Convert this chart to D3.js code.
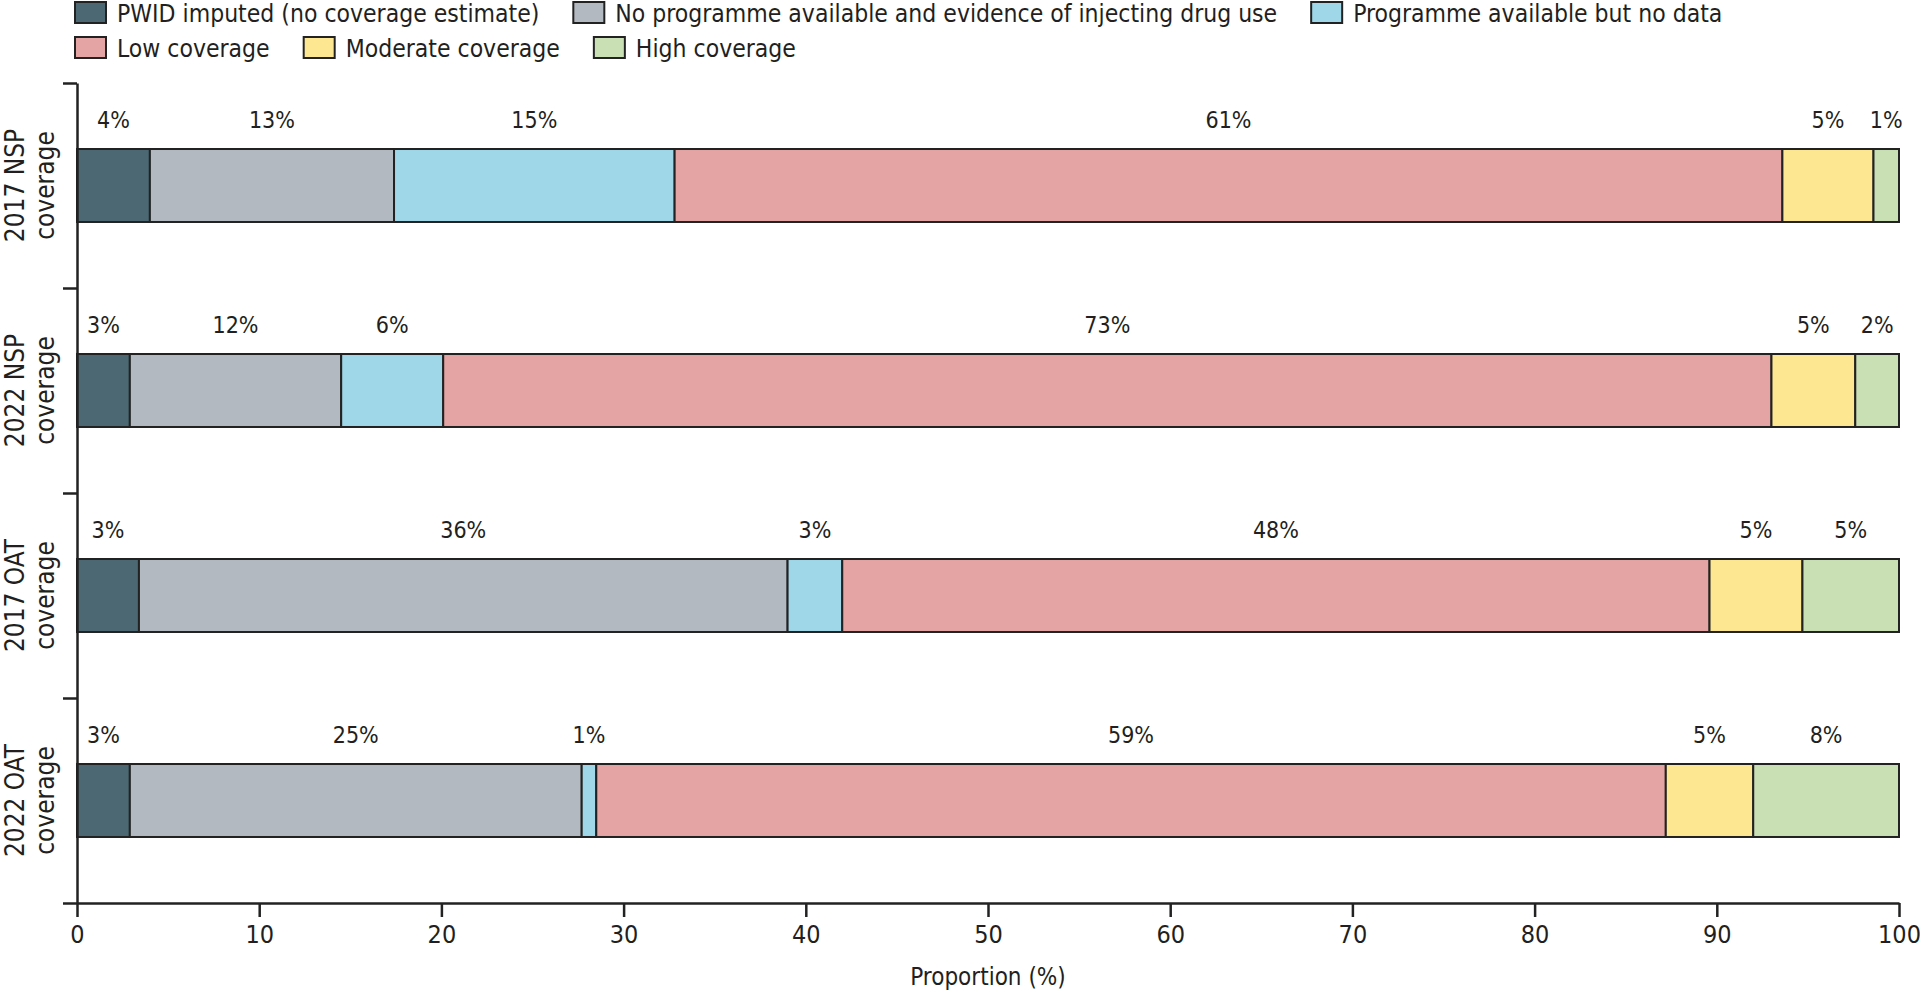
<!DOCTYPE html>
<html>
<head>
<meta charset="utf-8">
<script src="https://cdn.jsdelivr.net/npm/d3@7"></script>
<style>
  body { margin: 0; background: #fff; }
  svg { display: block; }
  text { font-family: "DejaVu Sans Condensed", Lato, "Liberation Sans", sans-serif; fill: #231f20; }
</style>
</head>
<body>
<svg id="canvas" width="1920" height="994"></svg>
<script>
// bar rows, top to bottom
const categories = ["2017 NSP coverage", "2022 NSP coverage", "2017 OAT coverage", "2022 OAT coverage"]

const seriesNames = [
  "PWID imputed (no coverage estimate)",
  "No programme available and evidence of injecting drug use",
  "Programme available but no data",
  "Low coverage",
  "Moderate coverage",
  "High coverage"
]

// proportions (%) per row
const pwidImputed = [4.0, 2.9, 3.4, 2.9]
const noProgramme = [13.4, 11.6, 35.6, 24.8]
const programmeNoData = [15.4, 5.6, 3.0, 0.8]
const lowCoverage = [60.8, 72.9, 47.6, 58.7]
const moderateCoverage = [5.0, 4.6, 5.1, 4.8]
const highCoverage = [1.4, 2.4, 5.3, 8.0]

const xTicks = [0, 10, 20, 30, 40, 50, 60, 70, 80, 90, 100]

const colors = ["#4b6873", "#b3b9c0", "#9fd7e9", "#e3a4a3", "#fde891", "#c9dfb4"]

const seriesValues = [pwidImputed, noProgramme, programmeNoData, lowCoverage, moderateCoverage, highCoverage]

let rows = categories.map((c, i) => {
  let row = { category: c }
  seriesNames.forEach((s, j) => { row[s] = seriesValues[j][i] })
  return row
})

let stacked = d3.stack().keys(seriesNames)(rows)

let canvas = d3.select("#canvas")

const plotLeft = 77
const plotRight = 1899
const plotTop = 83
const plotBottom = 903

let x = d3.scaleLinear().domain([0, 100]).range([plotLeft, plotRight])

let y = d3.scaleBand()
          .domain(categories)
          .range([plotTop, plotBottom])
          .paddingInner(0.644)
          .paddingOuter(0.322)

// band edges for the y axis ticks
let yEdges = d3.scaleLinear().domain([0, categories.length]).range([plotTop, plotBottom])

// ----- legend -----
const legendRows = [[0, 1, 2], [3, 4, 5]]
legendRows.forEach((items, r) => {
  let lx = 75
  let baseY = 22 + r * 35
  items.forEach((k) => {
    let g = canvas.append("g").attr("class", "legend-item")
    g.append("rect")
     .attr("x", lx)
     .attr("y", baseY - 20)
     .attr("width", 31)
     .attr("height", 21)
     .attr("fill", colors[k])
     .attr("stroke", "#222")
     .attr("stroke-width", 2)
    let t = g.append("text")
             .attr("x", lx + 42)
             .attr("y", baseY)
             .attr("font-size", 24.5)
             .text(seriesNames[k])
    lx = lx + 42 + t.node().getComputedTextLength() + 34
  })
})

// ----- bars -----
let layer = canvas.selectAll("g.layer")
                  .data(stacked)
                  .enter()
                  .append("g")
                  .attr("class", "layer")
                  .attr("fill", (d, i) => colors[i])

layer.selectAll("rect")
     .data((d) => d)
     .enter()
     .append("rect")
     .attr("x", (d) => x(d[0]))
     .attr("y", (d) => y(d.data.category))
     .attr("width", (d) => x(d[1]) - x(d[0]))
     .attr("height", y.bandwidth())
     .attr("stroke", "#222")
     .attr("stroke-width", 2)

layer.selectAll("text")
     .data((d) => d)
     .enter()
     .append("text")
     .attr("x", (d) => (x(d[0]) + x(d[1])) / 2)
     .attr("y", (d) => y(d.data.category) - 21)
     .attr("text-anchor", "middle")
     .attr("font-size", 23)
     .text((d) => d3.format(".0f")(d[1] - d[0]) + "%")

// ----- axes -----
let xAxis = canvas.append("g")
                  .attr("transform", "translate(0," + plotBottom + ")")
                  .call(d3.axisBottom(x).tickValues(xTicks).tickSize(14).tickPadding(8).tickSizeOuter(0))
xAxis.attr("font-family", null).attr("font-size", null)
xAxis.selectAll("text").attr("font-size", 25)

let yAxis = canvas.append("g")
                  .attr("transform", "translate(" + plotLeft + ",0)")
                  .call(d3.axisLeft(yEdges).ticks(categories.length).tickSize(14).tickFormat("").tickSizeOuter(0))

canvas.selectAll(".domain, .tick line").attr("stroke", "#222").attr("stroke-width", 2.5)

canvas.append("text")
      .attr("x", (plotLeft + plotRight) / 2)
      .attr("y", 985)
      .attr("text-anchor", "middle")
      .attr("font-size", 24)
      .text("Proportion (%)")

// category labels, rotated, two lines each
categories.forEach((c) => {
  let cy = y(c) + y.bandwidth() / 2
  let words = c.split(" ")
  let lines = [words.slice(0, 2).join(" "), words.slice(2).join(" ")]
  lines.forEach((line, i) => {
    canvas.append("text")
          .attr("transform", "translate(" + (24 + i * 30) + "," + cy + ") rotate(-90)")
          .attr("text-anchor", "middle")
          .attr("font-size", 26)
          .text(line)
  })
})
</script>
</body>
</html>
